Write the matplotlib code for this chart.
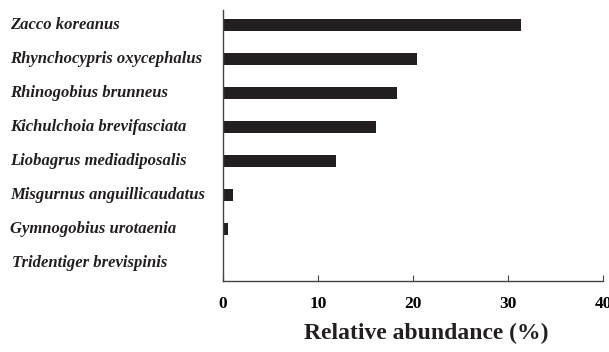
import matplotlib
matplotlib.use("Agg")
import matplotlib.pyplot as plt
import matplotlib.transforms as mtransforms

species = ["Zacco koreanus", "Rhynchocypris oxycephalus", "Rhinogobius brunneus",
           "Kichulchoia brevifasciata", "Liobagrus mediadiposalis",
           "Misgurnus anguillicaudatus", "Gymnogobius urotaenia", "Tridentiger brevispinis"]
abundance = [31.4, 20.4, 18.3, 16.1, 11.9, 1.05, 0.5, 0.1]
xticks = [0, 10, 20, 30, 40]

fig = plt.figure(figsize=(6.09, 3.52), dpi=100)
ax = fig.add_axes([223/609, 1-281/352, (603-223)/609, (281-10)/352])

n = len(species)
pos = [n - 1 - i for i in range(n)]
ax.barh(pos, abundance, height=0.36, color="#231f20")
ax.set_xlim(0, 40)
ax.set_ylim(-0.53, n - 1 + 0.44)

ax.spines["top"].set_visible(False)
ax.spines["right"].set_visible(False)
for s in ("left", "bottom"):
    ax.spines[s].set_color("#444444")
    ax.spines[s].set_linewidth(1.0)

ax.set_yticks([])
ax.set_xticks(xticks)
ax.set_xticklabels([str(t) for t in xticks], fontfamily="Liberation Serif",
                   fontweight="bold", fontsize=12.5)
ax.tick_params(axis="x", direction="in", length=4, pad=11, color="#444444")

trans = mtransforms.blended_transform_factory(fig.transFigure, ax.transData)
for p, name in zip(pos, species):
    x0 = 12/609 if name.startswith("Tridentiger") else 10/609
    ax.text(x0, p, name, transform=trans, ha="left", va="center",
            fontfamily="Liberation Serif", fontweight="bold", fontstyle="italic",
            fontsize=12.0, color="#231f20")

fig.text(426.5/609, 1-333/352, "Relative abundance (%)", ha="center", va="center",
         fontfamily="Liberation Serif", fontweight="bold", fontsize=17, color="#231f20")

fig.savefig("out.png", dpi=100)
